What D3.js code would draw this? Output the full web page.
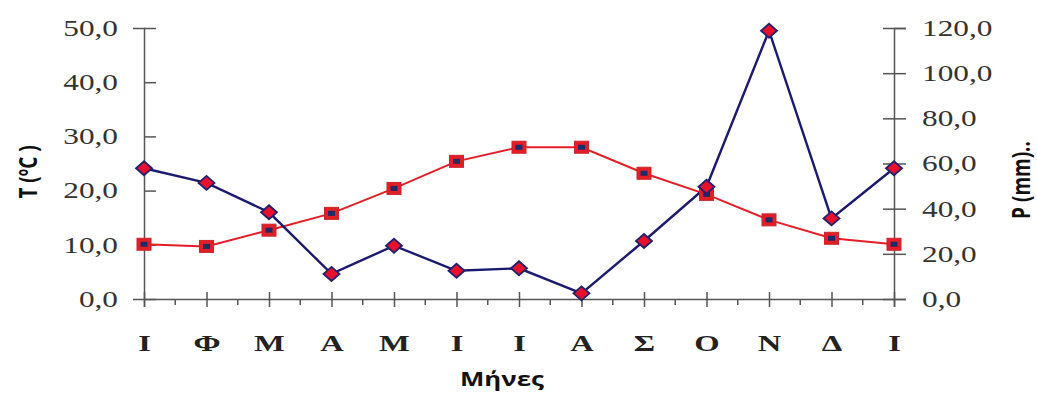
<!DOCTYPE html>
<html><head><meta charset="utf-8">
<script src="https://cdn.jsdelivr.net/npm/d3@7"></script>
<style>
body{margin:0;background:#fff}svg{display:block}
.sx{transform-box:fill-box;transform:scaleX(1.36)}
.sx-end{transform-origin:right center}
.sx-start{transform-origin:left center}
.sx-mid{transform-origin:center center}
</style>
</head><body>
<svg id="c" width="1037" height="393"></svg>
<script>
const months = ["Ι","Φ","Μ","Α","Μ","Ι","Ι","Α","Σ","Ο","Ν","Δ","Ι"];
const temperature = [10.1, 9.7, 12.7, 15.8, 20.4, 25.4, 28.0, 28.0, 23.2, 19.3, 14.6, 11.2, 10.1];
const precipitation = [57.9, 51.4, 38.4, 11.1, 23.6, 12.5, 13.6, 2.5, 25.7, 49.7, 118.8, 35.7, 57.9];
const tTicks = [0, 10, 20, 30, 40, 50];
const pTicks = [0, 20, 40, 60, 80, 100, 120];

const svg = d3.select("#c");
const L = 144, R = 894, T = 28, B = 299;
const x = d3.scalePoint().domain(d3.range(months.length)).range([L, R]);
const yT = d3.scaleLinear().domain([0, 50]).range([B, T]);
const yP = d3.scaleLinear().domain([0, 120]).range([B, T]);
const fmt = v => v.toFixed(1).replace(".", ",");
const axisCol = "#555";
const serif = "'Liberation Serif','Times New Roman',serif";
const sans = "'Open Sans','Noto Sans',sans-serif";

// left axis
const gl = svg.append("g").attr("transform", `translate(${L},0)`)
  .call(d3.axisLeft(yT).tickValues(tTicks).tickFormat(fmt).tickSize(11).tickPadding(15));
gl.selectAll(".tick line").attr("x2", 12);
// right axis
const gr = svg.append("g").attr("transform", `translate(${R},0)`)
  .call(d3.axisRight(yP).tickValues(pTicks).tickFormat(fmt).tickSize(12).tickPadding(16));
gr.selectAll(".tick line").attr("x1", -11);
// bottom axis
const gb = svg.append("g").attr("transform", `translate(0,${B})`)
  .call(d3.axisBottom(x).tickFormat(i => months[i]).tickSize(8).tickPadding(27));
gb.selectAll(".tick line").attr("y1", -7);
// minor ticks
const mids = d3.range(months.length - 1).map(i => (x(i) + x(i + 1)) / 2);
svg.append("g").selectAll("line").data(mids).join("line")
  .attr("x1", d => d).attr("x2", d => d).attr("y1", B).attr("y2", B + 6)
  .attr("stroke", axisCol).attr("stroke-width", 1.5);

[gl, gr, gb].forEach(g => {
  g.select(".domain").attr("stroke", axisCol).attr("stroke-width", 1.5);
  g.selectAll(".tick line").attr("stroke", axisCol).attr("stroke-width", 1.5);
});
gl.selectAll(".tick text").attr("font-family", serif).attr("font-size", 23).attr("fill", "#333").attr("class", "sx sx-end");
gr.selectAll(".tick text").attr("font-family", serif).attr("font-size", 23).attr("fill", "#333").attr("class", "sx sx-start");
gb.selectAll(".tick text").attr("font-family", serif).attr("font-size", 24).attr("font-weight", "bold").attr("fill", "#222").attr("class", "sx sx-mid");

// temperature line
svg.append("path").datum(temperature)
  .attr("d", d3.line().x((d, i) => x(i)).y(d => yT(d)))
  .attr("fill", "none").attr("stroke", "#e41e26").attr("stroke-width", 2);
// precipitation line
svg.append("path").datum(precipitation)
  .attr("d", d3.line().x((d, i) => x(i)).y(d => yP(d)))
  .attr("fill", "none").attr("stroke", "#1b1a6e").attr("stroke-width", 2.4);

// square markers
const sq = svg.append("g").selectAll("g").data(temperature).join("g")
  .attr("transform", (d, i) => `translate(${x(i)},${yT(d)})`);
sq.append("rect").attr("x", -7).attr("y", -6).attr("width", 14).attr("height", 12)
  .attr("fill", "#e41e26").attr("stroke", "#c9252b").attr("stroke-width", 1);
sq.append("rect").attr("x", -3.5).attr("y", -2.5).attr("width", 7).attr("height", 5)
  .attr("fill", "#1f2a6b");

// diamond markers
svg.append("g").selectAll("path").data(precipitation).join("path")
  .attr("transform", (d, i) => `translate(${x(i)},${yP(d)})`)
  .attr("d", "M0,-7L8,0L0,7L-8,0Z")
  .attr("fill", "#e8112d").attr("stroke", "#23206e").attr("stroke-width", 1.8);

// titles
svg.append("text").attr("x", 502).attr("y", 386).attr("text-anchor", "middle").attr("class", "sx sx-mid")
  .attr("font-family", sans).attr("font-weight", "bold").attr("font-size", 19).attr("fill", "#111").text("Μήνες");
svg.append("text").attr("transform", "translate(37,172) rotate(-90) scale(1,1.36)").attr("text-anchor", "middle")
  .attr("font-family", sans).attr("font-weight", "bold").attr("font-size", 19).attr("fill", "#111").text("T (ºC )");
svg.append("text").attr("transform", "translate(1030,180) rotate(-90) scale(1,1.36)").attr("text-anchor", "middle")
  .attr("font-family", sans).attr("font-weight", "bold").attr("font-size", 19).attr("fill", "#111").text("P (mm)..");
</script>
</body></html>
